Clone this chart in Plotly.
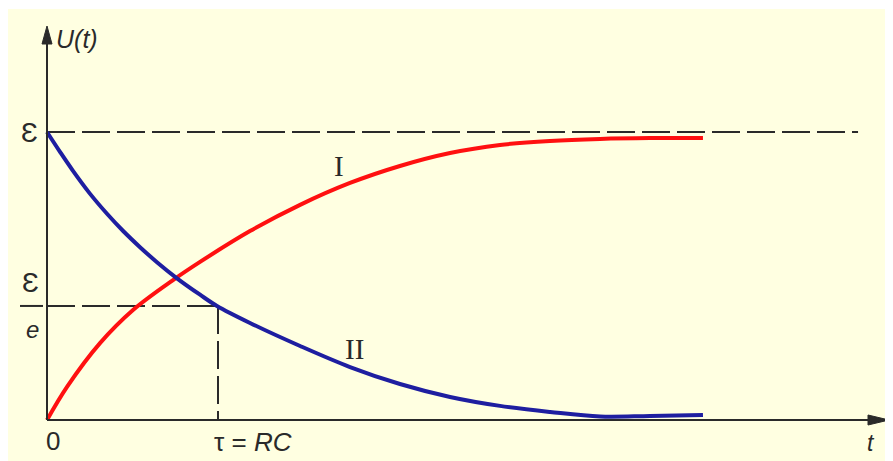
import plotly.graph_objects as go

# ---- data (t in units of tau = RC, U in units of the EMF) ----
t_I = [0.0, 0.117, 0.310, 0.503, 0.737, 0.895, 1.187, 1.480, 1.772, 2.064, 2.357, 2.649, 2.942, 3.234, 3.526, 3.836]
U_I = [0.0, 0.115, 0.267, 0.382, 0.486, 0.549, 0.656, 0.747, 0.823, 0.882, 0.927, 0.955, 0.969, 0.976, 0.979, 0.979]

t_II = [0.0, 0.076, 0.152, 0.251, 0.351, 0.444, 0.544, 0.643, 0.760, 0.895, 0.994, 1.187, 1.480, 1.772,
        2.064, 2.357, 2.649, 2.942, 3.234, 3.526, 3.836]
U_II = [1.0, 0.931, 0.865, 0.786, 0.716, 0.657, 0.600, 0.548, 0.492, 0.435, 0.396, 0.337, 0.257, 0.184,
        0.125, 0.080, 0.049, 0.028, 0.012, 0.014, 0.017]

E_level = 1.0          # U = EMF
E_over_e = 0.396       # U = EMF / e
tau = 1.0              # t = RC
E_dash_end = 4.743     # end of the EMF dashed guide

x_tick_labels = ["0", "τ = RC"]
y_tick_labels = ["Ɛ", "Ɛ", "e"]
curve_labels = ["I", "II"]
axis_labels = ["U(t)", "t"]

# ---- pixel helpers (layout only; page pixels, the page body adds an 8px offset) ----
PAGE_W, PAGE_H = 893, 461
OFF = 8
W, H = PAGE_W - OFF, PAGE_H - OFF
PX0, PY0, SX, SY = 47, 420, 171, 288
def dx(p): return (p - PX0) / SX
def dy(p): return (PY0 - p) / SY

BG = "#FFFFE1"
INK = "#2a2a2a"
RED = "#FF1010"
BLUE = "#1E1EA0"
DASH = "28px,7px"

fig = go.Figure()

# dashed guides
fig.add_trace(go.Scatter(x=[0, E_dash_end], y=[E_level, E_level], mode="lines",
                         line=dict(color=INK, width=2, dash=DASH), hoverinfo="skip"))
fig.add_trace(go.Scatter(x=[0, tau], y=[E_over_e, E_over_e], mode="lines",
                         line=dict(color=INK, width=2, dash=DASH), hoverinfo="skip"))
fig.add_trace(go.Scatter(x=[tau, tau], y=[E_over_e, 0], mode="lines",
                         line=dict(color=INK, width=2, dash=DASH), hoverinfo="skip"))

# curves
fig.add_trace(go.Scatter(x=t_I, y=U_I, mode="lines", name=curve_labels[0],
                         line=dict(color=RED, width=4, shape="spline", smoothing=1.0)))
fig.add_trace(go.Scatter(x=t_II, y=U_II, mode="lines", name=curve_labels[1],
                         line=dict(color=BLUE, width=4, shape="spline", smoothing=1.0)))

shapes = [
    # yellow panel
    dict(type="rect", xref="x", yref="y", x0=dx(8), x1=dx(PAGE_W + 5), y0=dy(9), y1=dy(PAGE_H + 5),
         fillcolor=BG, line=dict(width=0), layer="below"),
    # axes
    dict(type="line", xref="x", yref="y", x0=0, y0=0, x1=dx(872), y1=0,
         line=dict(color=INK, width=2), layer="above"),
    dict(type="line", xref="x", yref="y", x0=0, y0=0, x1=0, y1=dy(40),
         line=dict(color=INK, width=2), layer="above"),
    # arrowheads
    dict(type="path", xref="x", yref="y",
         path=f"M {dx(889)},{dy(420)} L {dx(868)},{dy(415)} L {dx(868)},{dy(425)} Z",
         fillcolor=INK, line=dict(color=INK, width=1), layer="above"),
    dict(type="path", xref="x", yref="y",
         path=f"M {dx(47)},{dy(26)} L {dx(42)},{dy(44)} L {dx(52)},{dy(44)} Z",
         fillcolor=INK, line=dict(color=INK, width=1), layer="above"),
    # fraction bar of EMF/e
    dict(type="line", xref="x", yref="y", x0=dx(20), x1=dx(43), y0=E_over_e, y1=E_over_e,
         line=dict(color=INK, width=2), layer="above"),
]

SANS = "Liberation Sans"
SERIF = "Liberation Serif"

def ann(text, x, y, size, family=SANS, xanchor="center", yanchor="middle"):
    return dict(text=text, x=x, y=y, xref="x", yref="y", showarrow=False,
                xanchor=xanchor, yanchor=yanchor,
                font=dict(family=family, size=size, color=INK))

annotations = [
    ann(f"<i>{axis_labels[0]}</i>", dx(54), dy(39), 25, xanchor="left"),
    ann(f"<i>{axis_labels[1]}</i>", dx(871), dy(443), 23),
    ann(x_tick_labels[0], dx(53), dy(441), 26),
    ann(f"τ = <i>RC</i>", dx(253), dy(442), 26),
    ann(y_tick_labels[0], dx(29), E_level - 0.003, 28),
    ann(y_tick_labels[1], dx(30), dy(282), 28),
    ann(f"<i>{y_tick_labels[2]}</i>", dx(32), dy(329), 24),
    ann(curve_labels[0], dx(339), dy(166), 29, family=SERIF),
    ann(curve_labels[1], dx(354), dy(349), 29, family=SERIF),
]

fig.update_layout(
    width=W, height=H,
    margin=dict(l=0, r=0, t=0, b=0),
    paper_bgcolor="white", plot_bgcolor="white",
    showlegend=False,
    xaxis=dict(range=[dx(OFF), dx(PAGE_W)], visible=False, fixedrange=True),
    yaxis=dict(range=[dy(PAGE_H), dy(OFF)], visible=False, fixedrange=True),
    shapes=shapes, annotations=annotations,
)

fig.write_html("out.html")
